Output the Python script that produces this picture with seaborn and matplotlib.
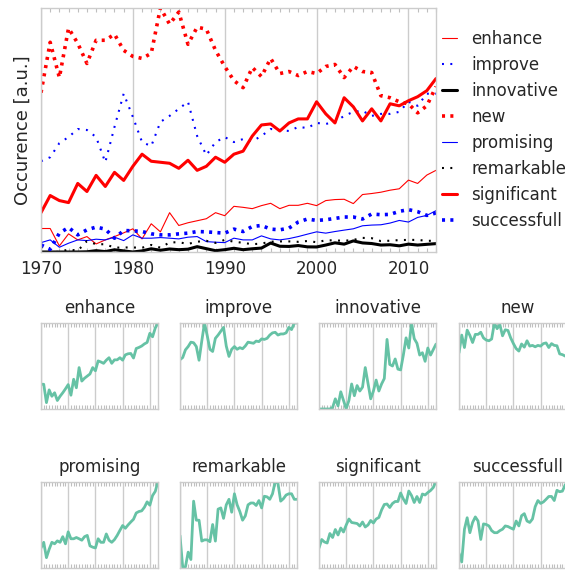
import numpy as np
import matplotlib
matplotlib.use("Agg")
import matplotlib.pyplot as plt
import seaborn as sns

years = np.arange(1970, 2014)

enhance = [23.3, 23.3, 6, 18, 12, 15.3, 8, 12, 15.3, 19, 23, 13, 28, 20, 39, 26.3, 29, 31, 33, 39, 36, 45.3,
           44.3, 43, 46, 48.3, 43, 46.3, 46.3, 48.3, 46, 51, 52, 52.3, 48, 57, 58, 59.3, 61.3, 62.7, 71.3, 68, 76.3, 81]
improve = [90, 94, 108, 114, 122, 121, 114, 89, 124, 157, 134, 109, 105, 129, 135, 142, 149, 115, 96, 109, 114, 109,
           112, 110, 115, 122, 121, 120, 124, 123, 128, 127, 129, 135, 139, 140, 135, 137, 137, 139, 149, 145, 157, 157]
innovative = [0, 0, 0, 0, 0, 0.2, 1.3, 0.4, 2.2, 1.1, 0, 1.1, 3.2, 1.7, 3, 2.3, 2.8, 5.3, 3.3, 1.3, 2.3, 3.7,
              2.3, 3.2, 3.9, 8.9, 5.7, 5.5, 6.4, 5.1, 5, 6.9, 9.1, 7.8, 11, 9, 8.4, 6.9, 7.2, 6.1, 7.8, 6.9, 7.6, 8.3]
new = [158, 208, 173, 222, 207, 187, 210, 210, 216, 200, 194, 192, 197, 242, 226, 238, 206, 223, 221, 200, 184, 170,
       163, 183, 174, 192, 177, 179, 175, 179, 177, 184, 186, 173, 184, 179, 178, 155, 153, 149, 147, 138, 145, 164]
promising = [9.3, 12, 4.7, 8.7, 12, 11.3, 12.7, 12, 14.7, 11.3, 17, 13.7, 13.7, 14.3, 13.7, 13, 14.7, 15.3, 10.3, 9.7,
             9.3, 13.7, 12, 12, 16, 13, 12, 13.3, 15.3, 17.7, 20, 18.7, 20.3, 21.7, 23, 26, 26.7, 27, 28.7, 31.3,
             29.7, 34.3, 36.3, 41]
remarkable = [5.2, 0, 0.1, 2.5, 1.3, 10.8, 7.7, 7.7, 4.3, 4.5, 4.5, 4.2, 7, 4.3, 9.5, 9.7, 8, 10.2, 11.1, 9, 12, 10.2,
              9.1, 7.7, 8.4, 10.2, 10.5, 10.5, 10.1, 10.9, 9.7, 11.6, 11.5, 11.1, 12, 14, 13.7, 10.8, 11.2, 11.8,
              12, 12, 11.1, 11.1]
significant = [39, 56, 51, 49, 68, 60, 76, 65, 79, 71, 85, 97, 90, 89, 88, 83, 91, 81, 85, 94, 89, 97,
               100, 115, 126, 127, 120, 128, 132, 132, 149, 137, 128, 153, 144, 130, 142, 130, 147, 145, 150, 154, 160, 172]
successfull = [7, 2.7, 18.7, 24.3, 17, 22, 24.7, 22.7, 13.7, 21.3, 21, 20.3, 18, 17, 17, 18, 18.7, 20.3, 20, 19.3,
               18.7, 22.7, 20.3, 25.3, 26.3, 22.7, 22, 23.7, 29.7, 32.7, 31.3, 32, 33.3, 34.7, 34.7, 32.7, 37.7, 37,
               37.3, 40.3, 42, 40, 36.3, 38.7]

words = ["enhance", "improve", "innovative", "new", "promising", "remarkable", "significant", "successfull"]
series = [enhance, improve, innovative, new, promising, remarkable, significant, successfull]

thin_dot = (0, (1.4, 4.6))
thick_dot = (0, (2.2, 3.8))
styles = {
    "enhance": dict(color="red", lw=0.8, ls="-"),
    "improve": dict(color="blue", lw=1.5, ls=thin_dot),
    "innovative": dict(color="black", lw=2.2, ls="-"),
    "new": dict(color="red", lw=2.6, ls=thick_dot),
    "promising": dict(color="blue", lw=0.8, ls="-"),
    "remarkable": dict(color="black", lw=1.5, ls=thin_dot),
    "significant": dict(color="red", lw=2.2, ls="-"),
    "successfull": dict(color="blue", lw=2.6, ls=thick_dot),
}

sns.set_style("whitegrid", {"axes.edgecolor": ".8", "grid.color": ".8"})
plt.rcParams["font.family"] = ["DejaVu Sans"]
plt.rcParams["lines.scale_dashes"] = False
teal = sns.color_palette("Set2")[0]
FS = 12

W, H = 565, 570
fig = plt.figure(figsize=(W / 100, H / 100), dpi=100)


def frame(ax):
    ax.set_xlim(1970, 2013)
    ax.set_xticks([1970, 1980, 1990, 2000, 2010])
    ax.set_xticks(years, minor=True)
    ax.set_yticks([])
    ax.yaxis.grid(False)
    ax.xaxis.grid(True, which="major", color=".8", lw=1)
    ax.tick_params(axis="x", which="major", length=0, pad=6, labelsize=FS, colors=".15")
    ax.tick_params(axis="x", which="minor", direction="in", length=3, width=0.8,
                   color=".75", top=True, bottom=True)
    for s in ax.spines.values():
        s.set_color(".8")
        s.set_linewidth(1)


ax = fig.add_axes([41 / W, 1 - 252 / H, 395 / W, 244 / H])
for w, vals in zip(words, series):
    st = styles[w]
    sns.lineplot(x=years, y=vals, ax=ax, color=st["color"], linewidth=st["lw"],
                 linestyle=st["ls"], label=w)
frame(ax)
ax.set_ylim(0, max(max(v) for v in series))
ax.set_ylabel("Occurence [a.u.]", fontsize=13, color=".15", labelpad=7)
ax.set_xlabel("")
ax.legend(loc="upper left", bbox_to_anchor=(442 / W, 1 - 30 / H), bbox_transform=fig.transFigure,
          frameon=False, fontsize=FS, handlelength=0.9, handletextpad=0.85, labelspacing=0.48,
          borderpad=0, borderaxespad=0)

lefts = [41, 180, 319, 459]
rows = [(323, 409), (481.5, 567.5)]
for k, (w, vals) in enumerate(zip(words, series)):
    top, bot = rows[k // 4]
    sax = fig.add_axes([lefts[k % 4] / W, 1 - bot / H, 117 / W, (bot - top) / H])
    sns.lineplot(x=years, y=vals, ax=sax, color=teal, linewidth=2)
    frame(sax)
    sax.set_xticklabels([])
    sax.set_ylim(0, max(vals))
    sax.set_ylabel("")
    sax.set_title(w, fontsize=FS, color=".15", pad=7)

fig.savefig("out.png", dpi=100)
